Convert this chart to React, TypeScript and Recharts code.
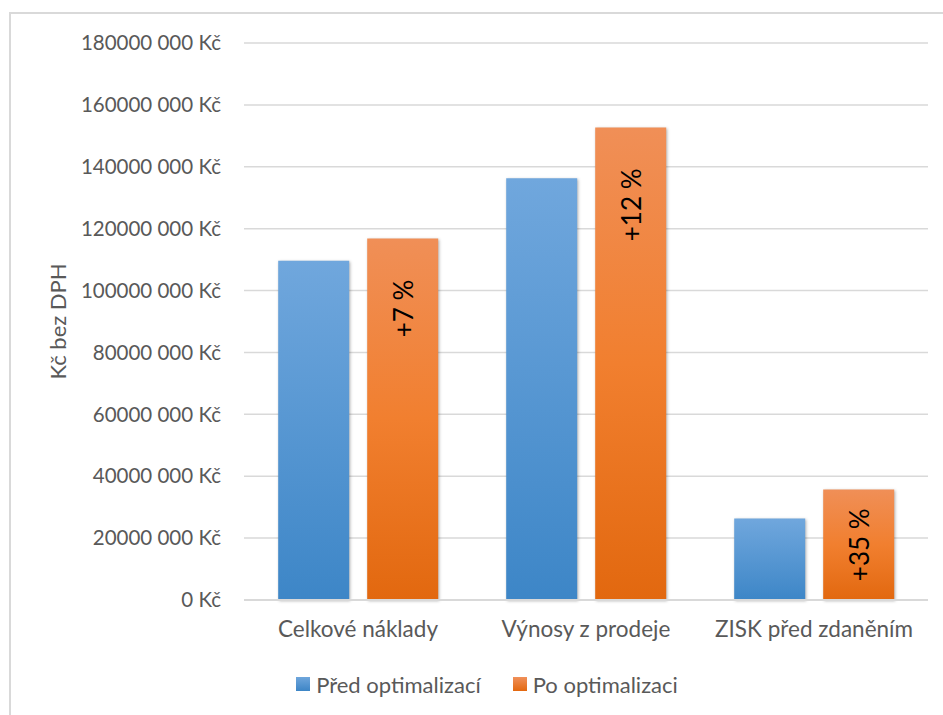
import React from "react";
import {
  BarChart,
  Bar,
  XAxis,
  YAxis,
  CartesianGrid,
  Legend,
  LabelList,
} from "recharts";

const categories = ["Celkové náklady", "Výnosy z prodeje", "ZISK před zdaněním"];
const beforeValues = [109600000, 136300000, 26300000];
const afterValues = [116800000, 152700000, 35700000];
const changeLabels = ["+7 %", "+12 %", "+35 %"];
const yTicks = [0, 20000000, 40000000, 60000000, 80000000, 100000000, 120000000, 140000000, 160000000, 180000000];

const seriesNames = { before: "Před optimalizací", after: "Po optimalizaci" };

const chartData = categories.map((name, i) => ({
  name,
  before: beforeValues[i],
  after: afterValues[i],
  change: changeLabels[i],
}));

const FONT = "Lato, 'Open Sans', sans-serif";

const formatKc = (v: number) =>
  v === 0 ? "0 Kč" : `${Math.floor(v / 1000)} ${String(v % 1000).padStart(3, "0")} Kč`;

const ChangeLabel = (props: any) => {
  const { x, y, width, height, value } = props;
  const cx = x + width / 2;
  // tall bars: label sits near the top, short bars: centred
  const tall = height > 200;
  const ly = tall ? y + 41 : y + height / 2;
  return (
    <text
      x={cx}
      y={ly}
      transform={`rotate(-90 ${cx} ${ly})`}
      textAnchor={tall ? "end" : "middle"}
      dominantBaseline="central"
      fontSize={26}
      fontFamily={FONT}
      fill="#000"
    >
      {value}
    </text>
  );
};

const LegendBox = () => (
  <div
    style={{
      height: 40,
      display: "flex",
      justifyContent: "center",
      alignItems: "center",
      fontFamily: FONT,
      fontSize: 22,
      color: "#595959",
      gap: 32,
      paddingLeft: 46,
    }}
  >
    <span style={{ display: "flex", alignItems: "center", gap: 6 }}>
      <span style={{ width: 14, height: 14, background: "linear-gradient(#6fa6dc, #3d85c6)" }} />
      {seriesNames.before}
    </span>
    <span style={{ display: "flex", alignItems: "center", gap: 6 }}>
      <span style={{ width: 14, height: 14, background: "linear-gradient(#f0905a, #e3680f)" }} />
      {seriesNames.after}
    </span>
  </div>
);

export default function App() {
  return (
    <div
      style={{
        position: "absolute",
        left: 0,
        top: 0,
        width: 943,
        height: 715,
        overflow: "hidden",
        background: "#fff",
      }}
    >
      <div
        style={{
          position: "absolute",
          left: 9,
          top: 12,
          width: 960,
          height: 760,
          border: "2px solid #d9d9d9",
        }}
      />
      <BarChart
        width={943}
        height={715}
        data={chartData}
        margin={{ top: 43, right: 15, left: 0, bottom: 11 }}
        barCategoryGap="15%"
        barGap={18}
      >
        <defs>
          <linearGradient id="gBlue" x1="0" y1="0" x2="0" y2="1">
            <stop offset="0%" stopColor="#70a7dd" />
            <stop offset="100%" stopColor="#3d86c7" />
          </linearGradient>
          <linearGradient id="gOrange" x1="0" y1="0" x2="0" y2="1">
            <stop offset="0%" stopColor="#f08f57" />
            <stop offset="50%" stopColor="#f17f2f" />
            <stop offset="100%" stopColor="#e2680f" />
          </linearGradient>
        </defs>
        <CartesianGrid vertical={false} stroke="#d9d9d9" strokeWidth={1.5} />
        <XAxis
          dataKey="name"
          height={64}
          tickSize={0}
          tickMargin={21}
          axisLine={{ stroke: "#d9d9d9", strokeWidth: 2 }}
          tick={{ fill: "#595959", fontSize: 22.5, fontFamily: FONT }}
        />
        <YAxis
          width={244}
          domain={[0, 180000000]}
          ticks={yTicks}
          interval={0}
          tickFormatter={formatKc}
          tickSize={0}
          tickMargin={23}
          axisLine={false}
          tick={{ fill: "#595959", fontSize: 20.5, fontFamily: FONT }}
          label={{
            value: "Kč bez DPH",
            content: (p: any) => {
              const vb = p.viewBox || { x: 0, y: 43, height: 557 };
              const lx = vb.x + 57;
              const ly = vb.y + vb.height / 2;
              return (
                <text
                  x={lx}
                  y={ly}
                  transform={`rotate(-90 ${lx} ${ly})`}
                  textAnchor="middle"
                  dominantBaseline="central"
                  fontSize={22}
                  fontFamily={FONT}
                  fill="#595959"
                >
                  Kč bez DPH
                </text>
              );
            },
          }}
        />
        <Legend verticalAlign="bottom" content={<LegendBox />} />
        <Bar
          dataKey="before"
          name={seriesNames.before}
          fill="url(#gBlue)"
          isAnimationActive={false}
          style={{ filter: "drop-shadow(1px 1px 1.5px rgba(0,0,0,0.3))" }}
        />
        <Bar
          dataKey="after"
          name={seriesNames.after}
          fill="url(#gOrange)"
          isAnimationActive={false}
          style={{ filter: "drop-shadow(1px 1px 1.5px rgba(0,0,0,0.3))" }}
        >
          <LabelList dataKey="change" content={<ChangeLabel />} />
        </Bar>
      </BarChart>
    </div>
  );
}
